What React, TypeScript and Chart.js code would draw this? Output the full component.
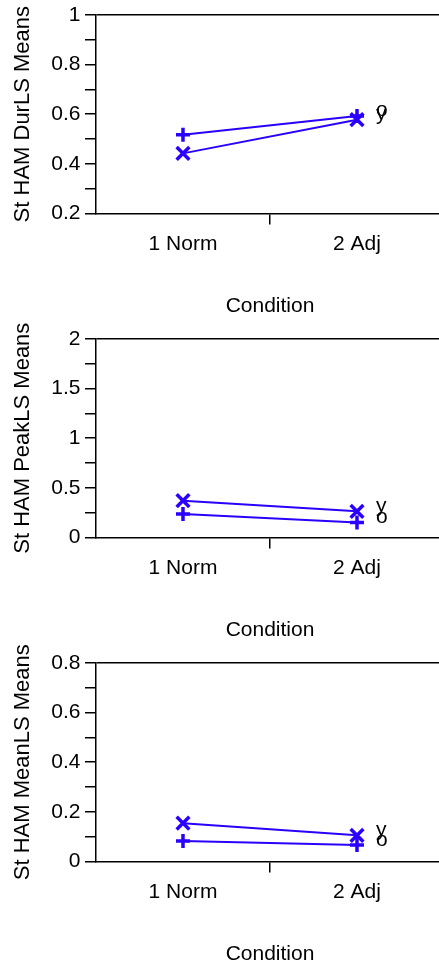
import React, { useEffect, useRef } from 'react';
import { Chart, registerables } from 'chart.js';

Chart.register(...registerables);

// ---- data ----
const categories = ['1 Norm', '2 Adj'];
const xTitle = 'Condition';
const seriesEndLabels = ['o', 'y']; // plus series, cross series

const durTitle = 'St HAM DurLS Means';
const durPlus = [0.517, 0.593];
const durCross = [0.442, 0.578];
const durRange = [0.2, 1];
const durStep = 0.1;
const durTickValues = [0.2, 0.4, 0.6, 0.8, 1];
const durTickLabels = ['0.2', '0.4', '0.6', '0.8', '1'];

const peakTitle = 'St HAM PeakLS Means';
const peakPlus = [0.235, 0.15];
const peakCross = [0.37, 0.263];
const peakRange = [0, 2];
const peakStep = 0.25;
const peakTickValues = [0, 0.5, 1, 1.5, 2];
const peakTickLabels = ['0', '0.5', '1', '1.5', '2'];

const meanTitle = 'St HAM MeanLS Means';
const meanPlus = [0.082, 0.066];
const meanCross = [0.154, 0.105];
const meanRange = [0, 0.8];
const meanStep = 0.1;
const meanTickValues = [0, 0.2, 0.4, 0.6, 0.8];
const meanTickLabels = ['0', '0.2', '0.4', '0.6', '0.8'];

// ---- styles ----
const BLUE = '#2a00ff';
const FONT_FAMILY = '"Liberation Sans", Arial, Helvetica, sans-serif';
const FONT_SIZE = 21;
const Y_TITLE_SIZE = 22;
const LINE_W = 1.5;
const CANVAS_W = 444;
const PAD_TOP = 26;
const CANVAS_H = 330;

const endLabelPlugin = {
  id: 'endLabels',
  afterDatasetsDraw(chart: any) {
    const ctx = chart.ctx;
    ctx.save();
    ctx.font = `${FONT_SIZE}px ${FONT_FAMILY}`;
    ctx.fillStyle = '#000';
    ctx.textAlign = 'left';
    ctx.textBaseline = 'alphabetic';
    chart.data.datasets.forEach((ds: any, i: number) => {
      const meta = chart.getDatasetMeta(i);
      const pt = meta.data[meta.data.length - 1];
      if (!pt || !ds.endLabel) return;
      ctx.fillText(ds.endLabel, pt.x + 19, pt.y + 0.5);
    });
    ctx.restore();
  },
};

type PanelProps = {
  top: number;
  title: string;
  plus: number[];
  cross: number[];
  range: number[];
  step: number;
  tickValues: number[];
  tickLabels: string[];
};

function Panel({ top, title, plus, cross, range, step, tickValues, tickLabels }: PanelProps) {
  const ref = useRef<HTMLCanvasElement | null>(null);
  useEffect(() => {
    if (!ref.current) return;
    const font = { family: FONT_FAMILY, size: FONT_SIZE };
    const chart = new Chart(ref.current, {
      type: 'line',
      data: {
        labels: categories,
        datasets: [
          {
            data: plus,
            borderColor: BLUE,
            backgroundColor: BLUE,
            borderWidth: 2,
            pointStyle: 'cross',
            pointRadius: 7,
            pointBorderWidth: 3.5,
            pointBorderColor: BLUE,
            fill: false,
            tension: 0,
            endLabel: seriesEndLabels[0],
          } as any,
          {
            data: cross,
            borderColor: BLUE,
            backgroundColor: BLUE,
            borderWidth: 2,
            pointStyle: 'crossRot',
            pointRadius: 9,
            pointBorderWidth: 3.5,
            pointBorderColor: BLUE,
            fill: false,
            tension: 0,
            endLabel: seriesEndLabels[1],
          } as any,
        ],
      },
      options: {
        responsive: false,
        animation: false,
        layout: { autoPadding: false, padding: { left: 10, top: PAD_TOP, right: 0, bottom: 0 } },
        plugins: { legend: { display: false }, tooltip: { enabled: false } },
        scales: {
          x: {
            type: 'category',
            offset: true,
            grid: {
              offset: true,
              drawOnChartArea: false,
              drawTicks: true,
              tickLength: 11,
              lineWidth: LINE_W,
              color: 'transparent',
              tickColor: (c: any) => (c.index === 1 ? '#000' : 'transparent'),
            },
            border: { display: true, color: '#000', width: LINE_W },
            ticks: { color: '#000', font, padding: 6.9, maxRotation: 0, autoSkip: false },
            title: {
              display: true,
              text: xTitle,
              color: '#000',
              font,
              padding: { top: 30.4, bottom: 0 },
            },
          },
          y: {
            type: 'linear',
            min: range[0],
            max: range[1],
            grid: {
              drawOnChartArea: true,
              drawTicks: true,
              tickLength: 11,
              lineWidth: LINE_W,
              color: (c: any) =>
                c.tick && Math.abs(c.tick.value - range[1]) < 1e-9 ? '#000' : 'transparent',
              tickColor: '#000',
            },
            border: { display: true, color: '#000', width: LINE_W },
            ticks: {
              stepSize: step,
              autoSkip: false,
              color: '#000',
              font,
              padding: 4.5,
              callback: (v: any) => {
                const idx = tickValues.findIndex((t) => Math.abs(t - Number(v)) < 1e-9);
                return idx >= 0 ? tickLabels[idx] : '';
              },
            },
            title: {
              display: true,
              text: title,
              color: '#000',
              font: { family: FONT_FAMILY, size: Y_TITLE_SIZE },
              padding: { top: 0, bottom: 10.4 },
            },
          },
        },
      },
      plugins: [endLabelPlugin],
    });
    return () => chart.destroy();
  }, []);
  return (
    <div style={{ position: 'absolute', left: 0, top, width: CANVAS_W, height: CANVAS_H }}>
      <canvas
        ref={ref}
        width={CANVAS_W}
        height={CANVAS_H}
        style={{ width: CANVAS_W, height: CANVAS_H, display: 'block' }}
      />
    </div>
  );
}

export default function App() {
  return (
    <div
      style={{
        position: 'absolute',
        left: 0,
        top: 0,
        width: 439,
        height: 964,
        overflow: 'hidden',
        background: '#fff',
      }}
    >
      <Panel top={-11} title={durTitle} plus={durPlus} cross={durCross} range={durRange} step={durStep} tickValues={durTickValues} tickLabels={durTickLabels} />
      <Panel top={313} title={peakTitle} plus={peakPlus} cross={peakCross} range={peakRange} step={peakStep} tickValues={peakTickValues} tickLabels={peakTickLabels} />
      <Panel top={637} title={meanTitle} plus={meanPlus} cross={meanCross} range={meanRange} step={meanStep} tickValues={meanTickValues} tickLabels={meanTickLabels} />
    </div>
  );
}
